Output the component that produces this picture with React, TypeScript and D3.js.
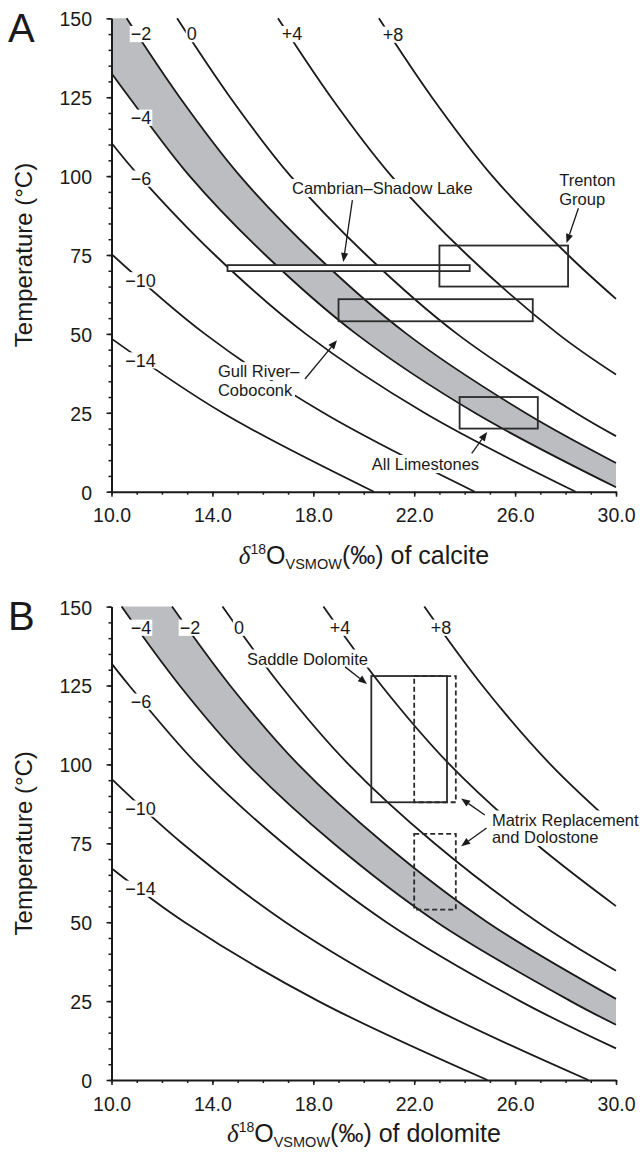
import { useEffect, useRef } from "react";
import * as d3 from "d3";

const FONT = "'Liberation Sans', Arial, Helvetica, sans-serif";
const INK = "#1a1a1a";
const BAND = "#bcbdc0";

// axis ticks
const xTicks = [10, 14, 18, 22, 26, 30];
const yTicks = [0, 25, 50, 75, 100, 125, 150];

// calcite–water curves, [δ18O calcite, T °C]
const calM14: [number, number][] = [[20.4, 0], [14.4, 25], [10.0, 48.5]];
const calM10: [number, number][] = [[24.4, 0], [18.4, 25], [13.7, 50], [10.0, 75.3]];
const calM6: [number, number][] = [[28.4, 0], [22.4, 25], [17.7, 50], [14.1, 75], [11.1, 100], [10.0, 110.5]];
const calM4: [number, number][] = [[30.0, 1.4], [24.4, 25], [19.7, 50], [16.1, 75], [13.1, 100], [10.7, 125], [10.0, 132.6]];
const calM2: [number, number][] = [[30.0, 9.1], [26.4, 25], [21.7, 50], [18.1, 75], [15.1, 100], [12.7, 125], [10.6, 150]];
const cal0: [number, number][] = [[30.0, 17.6], [28.4, 25], [23.7, 50], [20.1, 75], [17.1, 100], [14.7, 125], [12.6, 150]];
const calP4: [number, number][] = [[30.0, 37.1], [27.7, 50], [24.1, 75], [21.1, 100], [18.7, 125], [16.6, 150]];
const calP8: [number, number][] = [[30.0, 61.1], [28.1, 75], [25.1, 100], [22.7, 125], [20.6, 150]];

// dolomite–water curves
const dolM14: [number, number][] = [[24.9, 0], [18.2, 25], [12.9, 50], [10.0, 67.1]];
const dolM10: [number, number][] = [[28.9, 0], [22.2, 25], [16.9, 50], [12.8, 75], [10.0, 95.4]];
const dolM6: [number, number][] = [[30.0, 10.0], [26.2, 25], [20.9, 50], [16.8, 75], [13.4, 100], [10.7, 125], [10.0, 132.0]];
const dolM4: [number, number][] = [[30.0, 17.5], [28.2, 25], [22.9, 50], [18.8, 75], [15.4, 100], [12.7, 125], [10.4, 150]];
const dolM2: [number, number][] = [[30.0, 25.7], [24.9, 50], [20.8, 75], [17.4, 100], [14.7, 125], [12.4, 150]];
const dol0: [number, number][] = [[30.0, 34.6], [26.9, 50], [22.8, 75], [19.4, 100], [16.7, 125], [14.4, 150]];
const dolP4: [number, number][] = [[30.0, 55.1], [26.8, 75], [23.4, 100], [20.7, 125], [18.4, 150]];
const dolP8: [number, number][] = [[30.0, 80.3], [27.4, 100], [24.7, 125], [22.4, 150]];

// curve labels (water δ18O) [text, x, T]
const labelsA: [string, number, number][] = [
  ["\u22122", 11.17, 143.0], ["0", 13.18, 143.0], ["+4", 17.16, 143.0], ["+8", 21.16, 142.8],
  ["\u22124", 11.17, 116.5], ["\u22126", 11.17, 97.2], ["\u221210", 11.15, 65.0], ["\u221214", 11.15, 39.6],
];
const labelsB: [string, number, number][] = [
  ["\u22124", 11.17, 141.3], ["\u22122", 13.11, 141.3], ["0", 15.05, 141.3], ["+4", 19.06, 141.3], ["+8", 23.06, 141.3],
  ["\u22126", 11.17, 117.9], ["\u221210", 11.15, 84.0], ["\u221214", 11.15, 58.6],
];

// sample boxes [x0, x1, T0, T1]
const boxesA = [
  { name: "Cambrian", r: [14.6, 24.2, 69.9, 71.8], dash: false, fill: "#fff" },
  { name: "Trenton", r: [23.0, 28.1, 65, 78], dash: false, fill: "none" },
  { name: "Gull", r: [19.0, 26.7, 54, 61], dash: false, fill: "none" },
  { name: "Limestones", r: [23.8, 26.9, 20, 30], dash: false, fill: "none" },
];
const boxesB = [
  { name: "Saddle", r: [20.3, 23.3, 88, 128], dash: false, fill: "none" },
  { name: "Matrix1", r: [22.0, 23.65, 88, 128], dash: true, fill: "none" },
  { name: "Matrix2", r: [22.0, 23.65, 54, 78], dash: true, fill: "none" },
];

// annotation texts: lines [text, x, T baseline]
const notesA: [string, number, number][] = [
  ["Cambrian\u2013Shadow Lake", 17.155, 94.33],
  ["Trenton", 27.75, 97.0],
  ["Group", 27.75, 90.7],
  ["Gull River\u2013", 14.22, 36.3],
  ["Coboconk", 14.22, 30.3],
  ["All Limestones", 20.32, 6.87],
];
const notesB: [string, number, number][] = [
  ["Saddle Dolomite", 15.37, 131.65],
  ["Matrix Replacement", 25.08, 80.64],
  ["and Dolostone", 25.08, 75.1],
];

// arrows [x1, T1, x2, T2]
const arrowsA: number[][] = [
  [19.55, 92.4, 19.19, 72.8],
  [28.51, 89.8, 28.04, 78.8],
  [17.67, 35.7, 18.94, 48.0],
  [24.28, 12.17, 24.89, 18.9],
];
const arrowsB: number[][] = [
  [19.26, 130.9, 20.13, 125.5],
  [24.80, 83.97, 23.86, 89.2],
  [24.87, 79.85, 23.86, 74.1],
];

const panels = [
  {
    letter: "A", top: 18.3, bottom: 491.7, mineral: "calcite", titleY: 564,
    curves: [calM14, calM10, calM6, calM4, calM2, cal0, calP4, calP8],
    bandLow: calM4, bandHigh: calM2, corner: [[10, 150]] as [number, number][],
    labels: labelsA, boxes: boxesA, notes: notesA, arrows: arrowsA,
  },
  {
    letter: "B", top: 606.6, bottom: 1080, mineral: "dolomite", titleY: 1142,
    curves: [dolM14, dolM10, dolM6, dolM4, dolM2, dol0, dolP4, dolP8],
    bandLow: dolM4, bandHigh: dolM2, corner: [] as [number, number][],
    labels: labelsB, boxes: boxesB, notes: notesB, arrows: arrowsB,
  },
];

export default function App() {
  const ref = useRef<SVGSVGElement>(null);

  useEffect(() => {
    const svg = d3.select(ref.current);
    svg.selectAll("*").remove();
    const x = d3.scaleLinear().domain([10, 30]).range([111.5, 616]);

    panels.forEach((p) => {
      const y = d3.scaleLinear().domain([0, 150]).range([p.bottom, p.top]);
      const g = svg.append("g");
      const line = d3.line<[number, number]>()
        .x((d) => x(d[0]))
        .y((d) => y(d[1]))
        .curve(d3.curveCatmullRom.alpha(0.5));

      // grey band between -4 and -2 water curves
      const low = line(p.bandLow)!;
      const high = line([...p.bandHigh].reverse())!;
      const corner = p.corner.map((c) => `L${x(c[0])},${y(c[1])}`).join("");
      g.append("path")
        .attr("d", low + corner + high.replace(/^M/, "L") + "Z")
        .attr("fill", BAND);

      // curves
      g.selectAll(".curve")
        .data(p.curves)
        .join("path")
        .attr("class", "curve")
        .attr("d", (d) => line(d))
        .attr("fill", "none")
        .attr("stroke", INK)
        .attr("stroke-width", 1.8);

      // boxes
      p.boxes.forEach((b) => {
        const [x0, x1, t0, t1] = b.r;
        g.append("rect")
          .attr("x", x(x0)).attr("y", y(t1))
          .attr("width", x(x1) - x(x0)).attr("height", y(t0) - y(t1))
          .attr("fill", b.fill)
          .attr("stroke", "#2a2a2a")
          .attr("stroke-width", 1.8)
          .attr("stroke-dasharray", b.dash ? "5,3" : null);
      });

      // curve labels on white
      const fs = 18;
      p.labels.forEach(([txt, lx, lt]) => {
        const bg = g.append("rect").attr("fill", "#fff");
        const t = g.append("text")
          .attr("x", x(lx)).attr("y", y(lt))
          .attr("text-anchor", "middle")
          .style("font-family", FONT).style("font-size", `${fs}px`)
          .attr("fill", INK).text(txt);
        const bb = (t.node() as SVGTextElement).getBBox();
        bg.attr("x", bb.x - 1).attr("width", bb.width + 2)
          .attr("y", y(lt) - 0.8 * fs).attr("height", 0.9 * fs);
      });

      // annotations on white
      p.notes.forEach(([txt, nx, nt]) => {
        const bg = g.append("rect").attr("fill", "#fff");
        const t = g.append("text")
          .attr("x", x(nx)).attr("y", y(nt))
          .style("font-family", FONT).style("font-size", "16.5px")
          .attr("fill", INK).text(txt);
        const bb = (t.node() as SVGTextElement).getBBox();
        bg.attr("x", bb.x - 2).attr("width", bb.width + 4)
          .attr("y", bb.y).attr("height", bb.height);
      });

      // arrows
      p.arrows.forEach(([ax1, at1, ax2, at2]) => {
        const X1 = x(ax1), Y1 = y(at1), X2 = x(ax2), Y2 = y(at2);
        const a = Math.atan2(Y2 - Y1, X2 - X1);
        const L = 9, w = 3.6;
        const bx = X2 - L * Math.cos(a), by = Y2 - L * Math.sin(a);
        g.append("line")
          .attr("x1", X1).attr("y1", Y1).attr("x2", bx).attr("y2", by)
          .attr("stroke", INK).attr("stroke-width", 1.3);
        g.append("path")
          .attr("d", `M${X2},${Y2}L${bx + w * Math.sin(a)},${by - w * Math.cos(a)}L${bx - w * Math.sin(a)},${by + w * Math.cos(a)}Z`)
          .attr("fill", INK);
      });

      // axes
      const xAxis = g.append("g").attr("transform", `translate(0,${p.bottom})`)
        .call(d3.axisBottom(x).tickValues(xTicks).tickSize(5).tickSizeOuter(0).tickFormat((d) => (d as number).toFixed(1)));
      g.append("g").attr("transform", `translate(0,${p.bottom})`)
        .call(d3.axisBottom(x).tickValues(d3.range(10, 31)).tickSize(3).tickSizeOuter(0).tickFormat(() => ""))
        .call((s) => s.select(".domain").remove());
      const yAxis = g.append("g").attr("transform", `translate(111.5,0)`)
        .call(d3.axisLeft(y).tickValues(yTicks).tickSize(5).tickSizeOuter(0));
      g.append("g").attr("transform", `translate(111.5,0)`)
        .call(d3.axisLeft(y).tickValues(d3.range(0, 151, 5)).tickSize(3).tickSizeOuter(0).tickFormat(() => ""))
        .call((s) => s.select(".domain").remove());

      g.selectAll(".domain").attr("stroke", INK).attr("stroke-width", 2);
      g.selectAll(".tick line").attr("stroke", INK).attr("stroke-width", 1.5);
      xAxis.selectAll("text")
        .attr("y", 30.5).attr("dy", 0)
        .style("font-family", FONT).style("font-size", "19.5px").attr("fill", INK);
      yAxis.selectAll("text")
        .attr("x", -19.5).attr("dy", "0.38em")
        .style("font-family", FONT).style("font-size", "19.5px").attr("fill", INK);

      // axis titles
      g.append("text")
        .attr("transform", `translate(32,${(p.top + p.bottom) / 2}) rotate(-90)`)
        .attr("text-anchor", "middle")
        .style("font-family", FONT).style("font-size", "24px").attr("fill", INK)
        .text("Temperature (\u00b0C)");

      const tt = g.append("text")
        .attr("x", 364).attr("y", p.titleY)
        .attr("text-anchor", "middle")
        .style("font-family", FONT).style("font-size", "25px").attr("fill", INK);
      tt.append("tspan").style("font-family", "'Liberation Serif', serif").style("font-style", "italic").text("\u03b4");
      tt.append("tspan").attr("dy", -10).style("font-size", "14px").text("18");
      tt.append("tspan").attr("dy", 10).text("O");
      tt.append("tspan").attr("dy", 5).style("font-size", "14.5px").text("VSMOW");
      tt.append("tspan").attr("dy", -5).text(`(\u2030) of ${p.mineral}`);

      // panel letter
      g.append("text")
        .attr("x", 8).attr("y", p.top + 23.3)
        .style("font-family", FONT).style("font-size", "40px").attr("fill", INK)
        .text(p.letter);
    });
  }, []);

  return (
    <svg
      ref={ref}
      width={644}
      height={1155}
      style={{ position: "absolute", left: 0, top: 0, background: "#fff" }}
    />
  );
}
